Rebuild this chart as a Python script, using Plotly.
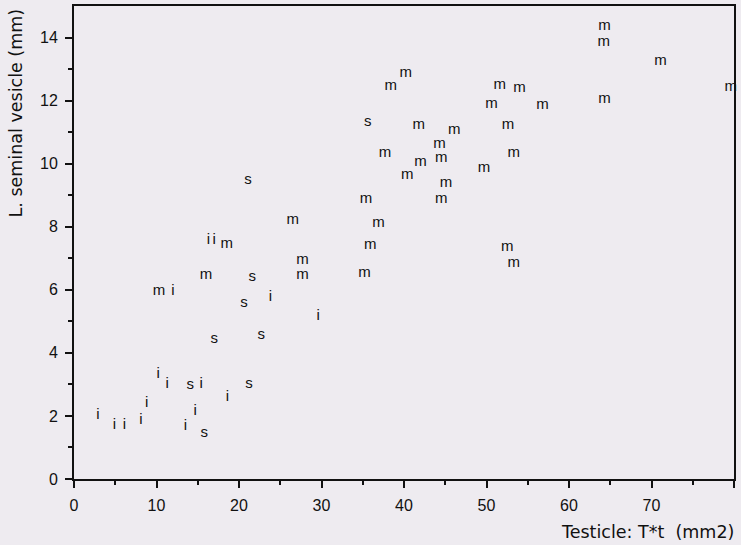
import plotly.graph_objects as go

# Data (x = Testicle T*t in mm2, y = L. seminal vesicle in mm)
m_x = [26.5, 18.5, 40.2, 38.4, 51.6, 54.0, 50.6, 56.8, 41.8, 46.1, 52.6, 44.3, 37.7, 53.3,
       44.5, 42.0, 40.4, 49.7, 45.1, 35.4, 44.5, 36.9, 35.9, 52.5, 27.7, 27.7, 35.2, 53.3,
       16.0, 10.3, 64.3, 64.2, 71.1, 79.6, 64.3]
m_y = [8.22, 7.43, 12.87, 12.45, 12.5, 12.38, 11.9, 11.84, 11.23, 11.05, 11.23, 10.63, 10.34, 10.34,
       10.17, 10.04, 9.64, 9.86, 9.39, 8.88, 8.88, 8.12, 7.40, 7.35, 6.93, 6.45, 6.51, 6.85,
       6.47, 5.95, 14.37, 13.85, 13.26, 12.43, 12.03]

s_x = [21.1, 35.6, 21.6, 20.6, 17.0, 22.7, 14.1, 21.2, 15.8]
s_y = [9.48, 11.31, 6.41, 5.58, 4.44, 4.56, 2.97, 2.99, 1.46]

i_x = [16.3, 17.0, 12.0, 23.8, 29.6, 10.2, 11.3, 15.4, 8.8, 18.6, 2.9, 14.7, 4.9, 6.1, 8.1, 13.5]
i_y = [7.57, 7.57, 5.95, 5.77, 5.16, 3.31, 2.99, 2.99, 2.41, 2.60, 2.02, 2.15, 1.72, 1.72, 1.86, 1.67]

x_ticks = [0, 10, 20, 30, 40, 50, 60, 70, 80]
y_ticks = [0, 2, 4, 6, 8, 10, 12, 14]

BG = "#eeebf0"
TICKFONT = "Liberation Sans"
TITLEFONT = "DejaVu Sans"
INK = "#111111"

fig = go.Figure()
for xs, ys, letter in [(m_x, m_y, "m"), (s_x, s_y, "s"), (i_x, i_y, "i")]:
    fig.add_trace(go.Scatter(
        x=xs, y=ys, mode="text", text=[letter] * len(xs),
        textposition="middle center", cliponaxis=False,
        textfont=dict(family="Liberation Sans", size=15, color=INK),
        showlegend=False, hoverinfo="x+y"))

axis_common = dict(
    showline=True, linecolor=INK, linewidth=2, mirror=True,
    ticks="outside", tickcolor=INK, tickwidth=1.5, ticklen=7,
    showgrid=False, zeroline=False, automargin=False,
    tickfont=dict(family=TICKFONT, size=16, color=INK),
)

fig.update_xaxes(range=[0, 80], tickvals=x_ticks, ticktext=[str(v) for v in x_ticks],
                 minor=dict(tickvals=[5, 15, 25, 35, 45, 55, 65, 75], ticklen=4,
                            tickcolor=INK, tickwidth=1.5, ticks="outside"),
                 ticklabelstandoff=4,
                 **axis_common)
fig.update_yaxes(range=[0, 15], tickvals=y_ticks, ticktext=[str(v) for v in y_ticks],
                 minor=dict(tickvals=[1, 3, 5, 7, 9, 11, 13], ticklen=4,
                            tickcolor=INK, tickwidth=1.5, ticks="outside"),
                 ticklabelstandoff=4,
                 **axis_common)

fig.add_annotation(text="Testicle: T*t  (mm2)", xref="paper", yref="paper",
                   x=1.0, y=0, xanchor="right", yanchor="middle", yshift=-53, xshift=2,
                   showarrow=False, font=dict(family=TITLEFONT, size=17.5, color=INK))
fig.add_annotation(text="L. seminal vesicle (mm)", xref="paper", yref="paper",
                   x=0, y=1, xanchor="center", yanchor="top", xshift=-59, yshift=-1,
                   textangle=-90, showarrow=False,
                   font=dict(family=TITLEFONT, size=17.5, color=INK))

fig.update_layout(
    width=741, height=545,
    margin=dict(l=74, r=7, t=6, b=66, autoexpand=False),
    paper_bgcolor=BG, plot_bgcolor=BG,
)

fig.write_html(
    "out.html",
    config={"displayModeBar": False},
    post_script="document.body.style.margin='0';document.body.style.background='%s';"
                "document.body.style.overflow='hidden';" % BG,
)
